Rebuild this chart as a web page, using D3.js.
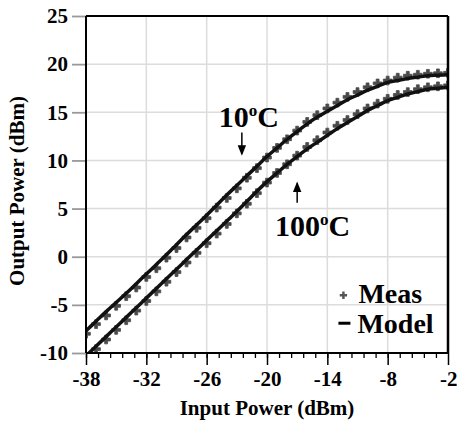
<html>

<head>
  <meta charset="utf-8">
  <title>Output Power vs Input Power</title>
  <script src="https://d3js.org/d3.v7.min.js"></script>
  <style>
    body { margin: 0; background: #fff; }
    text { font-family: "Liberation Serif", "Times New Roman", serif; font-weight: bold; fill: #000; }
  </style>
</head>

<body>
  <div id="chart"></div>

  <script type="text/javascript">

      // Data
      var pin = [-38, -37, -36, -35, -34, -33, -32, -31, -30, -29, -28, -27, -26, -25, -24, -23, -22, -21, -20,
                 -19, -18, -17, -16, -15, -14, -13, -12, -11, -10, -9, -8, -7, -6, -5, -4, -3, -2];

      var model_10 = [-7.7, -6.7, -5.7, -4.75, -3.8, -2.8, -1.8, -0.8, 0.2, 1.25, 2.3, 3.3, 4.3, 5.35, 6.4, 7.4, 8.4, 9.4, 10.4,
                      11.3, 12.2, 13.0, 13.8, 14.5, 15.1, 15.7, 16.3, 16.8, 17.3, 17.7, 18.1, 18.3, 18.5, 18.65, 18.8, 18.85, 18.9];
      var meas_10 = [-8.0, -7.0, -6.1, -5.1, -4.1, -3.2, -2.1, -1.2, -0.1, 0.9, 2.0, 3.0, 4.0, 5.1, 6.1, 7.1, 8.2, 9.2, 10.3,
                     11.3, 12.2, 13.1, 14.0, 14.7, 15.4, 16.0, 16.6, 17.1, 17.6, 18.0, 18.3, 18.6, 18.8, 18.9, 19.0, 19.05, 19.1];

      var model_100 = [-10.3, -9.3, -8.3, -7.3, -6.3, -5.3, -4.3, -3.3, -2.3, -1.3, -0.3, 0.7, 1.7, 2.7, 3.7, 4.7, 5.75, 6.8, 7.8,
                       8.7, 9.6, 10.4, 11.2, 11.9, 12.6, 13.3, 13.95, 14.55, 15.2, 15.7, 16.2, 16.55, 16.9, 17.15, 17.4, 17.5, 17.6];
      var meas_100 = [-10.6, -9.6, -8.6, -7.6, -6.6, -5.6, -4.6, -3.6, -2.6, -1.6, -0.6, 0.4, 1.4, 2.4, 3.4, 4.5, 5.5, 6.6, 7.7,
                      8.7, 9.6, 10.5, 11.4, 12.1, 12.9, 13.6, 14.2, 14.8, 15.4, 15.9, 16.4, 16.8, 17.1, 17.4, 17.6, 17.7, 17.8];

      var x_ticks = [-38, -32, -26, -20, -14, -8, -2];
      var y_ticks = [-10, -5, 0, 5, 10, 15, 20, 25];

      // Setting up the graph dimensions and margins
      var margin = {top: 16, right: 9, bottom: 68, left: 86};
      var width = 457 - margin.left - margin.right;
      var height = 421 - margin.top - margin.bottom;

      var x = d3.scaleLinear().domain([-38, -2]).range([0, width]);
      var y = d3.scaleLinear().domain([-10, 25]).range([height, 0]);

      var svg = d3.select('#chart')
                  .append('svg')
                    .attr('width', 457)
                    .attr('height', 421)
                  .append('g')
                    .attr('transform', 'translate(' + margin.left + ',' + margin.top + ')');

      svg.append('clipPath')
           .attr('id', 'plot-clip')
         .append('rect')
           .attr('width', width)
           .attr('height', height);

      // Grid
      svg.append('g')
           .selectAll('line')
           .data(x_ticks.slice(1, -1))
           .enter()
           .append('line')
             .attr('x1', function(d) { return x(d); })
             .attr('x2', function(d) { return x(d); })
             .attr('y1', 0)
             .attr('y2', height)
             .style('stroke', '#dcdcdc')
             .style('stroke-width', 1.5);

      svg.append('g')
           .selectAll('line')
           .data(y_ticks.slice(1, -1))
           .enter()
           .append('line')
             .attr('x1', 0)
             .attr('x2', width)
             .attr('y1', function(d) { return y(d); })
             .attr('y2', function(d) { return y(d); })
             .style('stroke', '#dcdcdc')
             .style('stroke-width', 1.5);

      // Measured points under the model lines
      var plot = svg.append('g').attr('clip-path', 'url(#plot-clip)');
      var cross = d3.symbol().type(d3.symbolCross).size(42);

      [meas_10, meas_100].forEach(function(series) {
        plot.append('g')
              .selectAll('path')
              .data(series)
              .enter()
              .append('path')
                .attr('d', cross)
                .attr('transform', function(d, i) { return 'translate(' + x(pin[i]) + ',' + y(d) + ')'; })
                .style('fill', '#4a4a4a')
                .style('stroke', '#4a4a4a')
                .style('stroke-width', 0.8)
                .style('stroke-linejoin', 'round');
      });

      var line_function = d3.line()
                            .x(function(d, i) { return x(pin[i]); })
                            .y(function(d) { return y(d); })
                            .curve(d3.curveMonotoneX);

      [model_10, model_100].forEach(function(series) {
        plot.append('path')
              .attr('d', line_function(series))
              .style('fill', 'none')
              .style('stroke', '#111')
              .style('stroke-width', 3.5);
      });

      // Axes (plain hyphen for negatives, like the original)
      var plain = function(d) { return String(d); };
      var x_axis = d3.axisBottom(x).tickValues(x_ticks).tickSize(12).tickPadding(6).tickFormat(plain);
      var x_minor = d3.axisBottom(x).tickValues(d3.range(-38, -2, 1.2)).tickSize(5).tickFormat('');
      var y_axis = d3.axisLeft(y).tickValues(y_ticks).tickSize(14).tickPadding(4).tickFormat(plain);

      var gx = svg.append('g')
                    .attr('transform', 'translate(0,' + height + ')')
                    .call(x_axis);
      svg.append('g')
           .attr('transform', 'translate(0,' + height + ')')
           .call(x_minor)
           .call(function(g) { g.select('.domain').remove(); })
           .selectAll('line')
             .style('stroke', '#000')
             .style('stroke-width', 1.3);
      gx.selectAll('line').style('stroke', '#000').style('stroke-width', 1.5);
      gx.selectAll('text').style('font-size', '21px').style('font-family', '"Liberation Serif", serif').style('font-weight', 'bold');
      gx.selectAll('text').filter(function(d) { return d === -2; })
        .attr('text-anchor', 'end').attr('x', 9);
      gx.select('.domain').remove();

      var gy = svg.append('g').call(y_axis);
      gy.selectAll('line').style('stroke', '#999').style('stroke-width', 1.8);
      gy.selectAll('text').style('font-size', '21px').style('font-family', '"Liberation Serif", serif').style('font-weight', 'bold');
      gy.select('.domain').remove();

      // Frame
      svg.append('line').attr('x1', 0).attr('x2', width).attr('y1', height).attr('y2', height)
           .style('stroke', '#000').style('stroke-width', 2);
      svg.append('line').attr('x1', 0).attr('x2', 0).attr('y1', 0).attr('y2', height)
           .style('stroke', '#000').style('stroke-width', 2);
      svg.append('line').attr('x1', 0).attr('x2', width).attr('y1', 0).attr('y2', 0)
           .style('stroke', '#000').style('stroke-width', 2);
      svg.append('line').attr('x1', width).attr('x2', width).attr('y1', 0).attr('y2', height)
           .style('stroke', '#000').style('stroke-width', 2.5);

      // Axis labels
      svg.append('text')
           .text('Input Power (dBm)')
           .attr('x', width / 2)
           .attr('y', height + 62)
           .attr('text-anchor', 'middle')
           .style('font-size', '21px');

      svg.append('text')
           .text('Output Power (dBm)')
           .attr('transform', 'rotate(-90)')
           .attr('x', -(191 - margin.top))
           .attr('y', -62)
           .attr('text-anchor', 'middle')
           .style('font-size', '21px');

      // Temperature annotations
      function temp_label(value, px, py) {
        var t = svg.append('text')
                     .attr('x', x(px))
                     .attr('y', y(py))
                     .style('font-size', '30px');
        t.append('tspan').text(value);
        t.append('tspan').text('o').attr('dy', -11).style('font-size', '17px');
        t.append('tspan').text('C').attr('dy', 11);
      }
      temp_label('10', -24.8, 13.5);
      temp_label('100', -19.2, 2.1);

      svg.append('defs').append('marker')
           .attr('id', 'arrow')
           .attr('viewBox', '0 0 10 10')
           .attr('refX', 8).attr('refY', 5)
           .attr('markerWidth', 7).attr('markerHeight', 7)
           .attr('orient', 'auto')
         .append('path')
           .attr('d', 'M0,1 L10,5 L0,9 Z')
           .style('fill', '#000');

      svg.append('line')
           .attr('x1', x(-22.5)).attr('x2', x(-22.5))
           .attr('y1', y(12.9)).attr('y2', y(10.7))
           .style('stroke', '#000').style('stroke-width', 1.5)
           .attr('marker-end', 'url(#arrow)');

      svg.append('line')
           .attr('x1', x(-17.0)).attr('x2', x(-17.0))
           .attr('y1', y(5.6)).attr('y2', y(7.6))
           .style('stroke', '#000').style('stroke-width', 1.5)
           .attr('marker-end', 'url(#arrow)');

      // Legend
      var legend = svg.append('g').attr('transform', 'translate(' + x(-12.4) + ',' + y(-4.0) + ')');
      legend.append('path')
              .attr('d', d3.symbol().type(d3.symbolCross).size(30))
              .style('fill', '#555');
      legend.append('text').text('Meas').attr('x', 15).attr('y', 8).style('font-size', '28px');
      legend.append('line')
              .attr('x1', -5).attr('x2', 7).attr('y1', 28).attr('y2', 28)
              .style('stroke', '#000').style('stroke-width', 3);
      legend.append('text').text('Model').attr('x', 14).attr('y', 38).style('font-size', '28px');

  </script>
</body>

</html>
